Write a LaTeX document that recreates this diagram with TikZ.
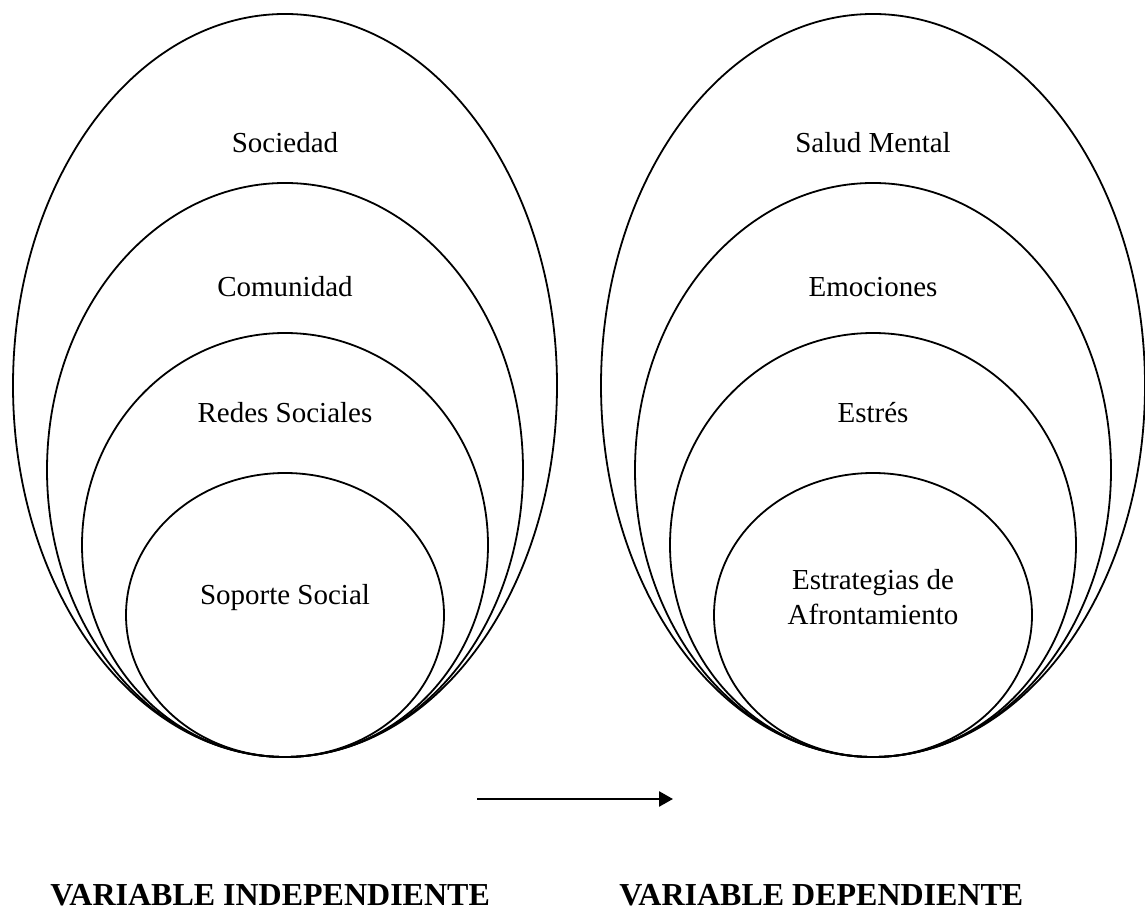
\documentclass[tikz,border=0pt]{standalone}
\usepackage{fontspec}
\setmainfont{Liberation Serif}
\usetikzlibrary{arrows.meta}

\begin{document}
\begin{tikzpicture}[x=0.5pt,y=0.5pt,
		ring/.style={line width=0.9pt},
		lbl/.style={font=\fontsize{14.5}{17.5}\selectfont, align=center, inner sep=0pt},
		varlbl/.style={font=\fontsize{16}{19}\selectfont\bfseries, inner sep=0pt, anchor=base west}]
		% Page frame
		\useasboundingbox (0,0) rectangle (1145,915);
		
		% Left nest of ellipses, all touching at the bottom
		\draw[ring] (285,529.5) ellipse [x radius=272, y radius=371.5];
		\draw[ring] (285,445) ellipse [x radius=238, y radius=287];
		\draw[ring] (285,370) ellipse [x radius=203, y radius=212];
		\draw[ring] (285,300) ellipse [x radius=159, y radius=142];
		
		% Right nest of ellipses
		\draw[ring] (873,529.5) ellipse [x radius=272, y radius=371.5];
		\draw[ring] (873,445) ellipse [x radius=238, y radius=287];
		\draw[ring] (873,370) ellipse [x radius=203, y radius=212];
		\draw[ring] (873,300) ellipse [x radius=159, y radius=142];
		
		% Labels, left
		\node[lbl] (soc) at (285,772) {Sociedad};
		\node[lbl] (com) at (285,628) {Comunidad};
		\node[lbl] (red) at (285,502) {Redes Sociales};
		\node[lbl] (sop) at (285,317) {Soporte Social};
		
		% Labels, right
		\node[lbl] (sal) at (873,772) {Salud Mental};
		\node[lbl] (emo) at (873,628) {Emociones};
		\node[lbl] (est) at (873,502) {Estrés};
		\node[lbl] (afr) at (873,318) {Estrategias de\\Afrontamiento};
		
		% Arrow between the two
		\coordinate (A) at (477,116);
		\coordinate (B) at (673,116);
		\draw[line width=1.3pt,-{Triangle[length=7pt,width=7.5pt]}] (A) -- (B);
		
		% Variable names
		\node[varlbl] (indep) at (50,10) {VARIABLE INDEPENDIENTE};
		\node[varlbl] (dep) at (619,10) {VARIABLE DEPENDIENTE};
		
	\end{tikzpicture}
\end{document}
